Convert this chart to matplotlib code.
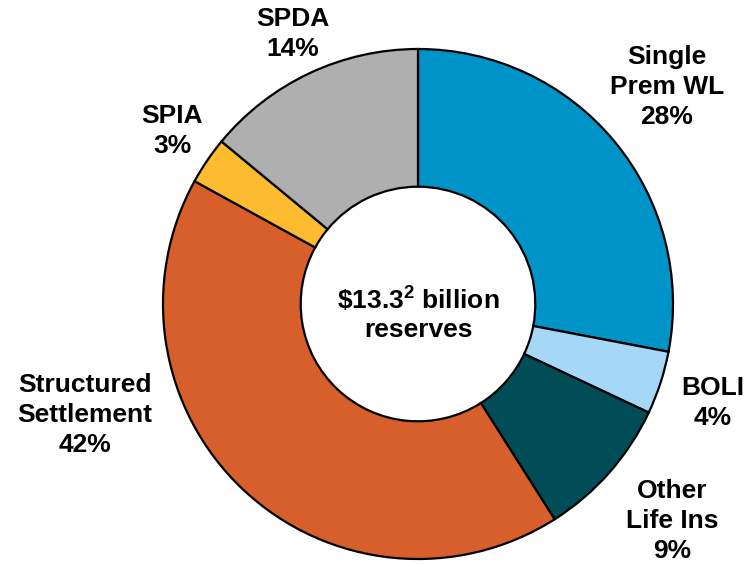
import matplotlib.pyplot as plt

plt.rcParams['font.family'] = ['Liberation Sans', 'DejaVu Sans']
plt.rcParams['mathtext.fontset'] = 'custom'
plt.rcParams['mathtext.bf'] = 'Liberation Sans:bold'
plt.rcParams['mathtext.rm'] = 'Liberation Sans:bold'

# reserve mix, clockwise from 12 o'clock
segments = ['Single\nPrem WL', 'BOLI', 'Other\nLife Ins', 'Structured\nSettlement', 'SPIA', 'SPDA']
shares = [28, 4, 9, 42, 3, 14]
colors = ['#0093C8', '#A5D8F7', '#004D57', '#D65F2B', '#FDBB30', '#AEAFAE']

# label anchor points in pixel space (x, y from top)
label_xy = [(667, 87), (713, 403), (672, 521), (85, 415), (172, 131), (293, 34)]

W, H = 756, 564
fig = plt.figure(figsize=(W / 100, H / 100), dpi=100)
ax = fig.add_axes([0, 0, 1, 1])

cx, cy, r = 418, H - 304, 255
ax.pie(shares, colors=colors, startangle=90, counterclock=False,
       center=(cx, cy), radius=r, frame=True,
       wedgeprops=dict(width=r * 0.54, edgecolor='black', linewidth=1.6))
ax.set_xlim(0, W)
ax.set_ylim(0, H)
ax.set_aspect('equal')
ax.axis('off')

for name, val, (x, y) in zip(segments, shares, label_xy):
    ax.text(x, H - y, f'{name}\n{val}%', ha='center', va='center',
            fontsize=19, fontweight='bold', linespacing=1.3)

ax.text(cx, H - 300, r'$\mathbf{\$13.3^{2}}$ billion', ha='center', va='center',
        fontsize=19, fontweight='bold')
ax.text(cx, H - 330, 'reserves', ha='center', va='center',
        fontsize=19, fontweight='bold')

fig.savefig('out.png', dpi=100)
